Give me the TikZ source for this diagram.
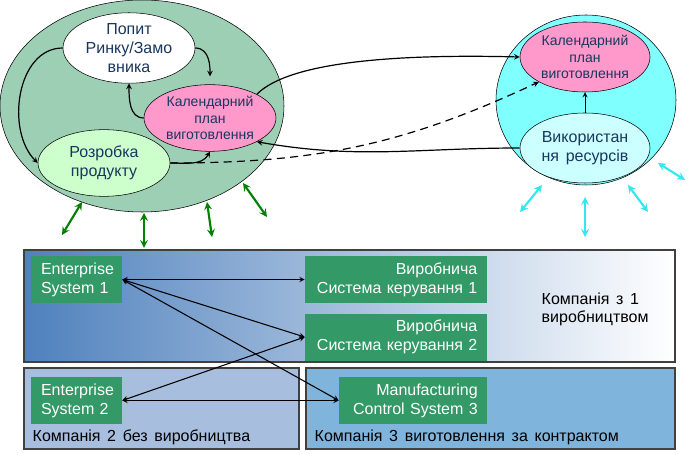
\documentclass[tikz,border=0pt]{standalone}
\usepackage{fontspec}
\setmainfont{Liberation Sans}[WordSpace=1.5]
\usetikzlibrary{positioning,shapes.geometric}

\definecolor{outergreen}{RGB}{157,207,181}
\definecolor{devgreen}{RGB}{204,255,204}
\definecolor{planpink}{RGB}{255,153,204}
\definecolor{rescyan}{RGB}{128,255,255}
\definecolor{usecyan}{RGB}{204,255,255}
\definecolor{navytext}{RGB}{23,55,94}
\definecolor{sysgreen}{RGB}{51,153,102}
\definecolor{arrowgreen}{RGB}{0,128,0}
\definecolor{arrowcyan}{RGB}{51,230,240}
\definecolor{topblue}{RGB}{79,129,189}
\definecolor{midblue}{RGB}{125,163,210}
\definecolor{nomakeblue}{RGB}{167,190,222}
\definecolor{contractblue}{RGB}{127,180,221}

\begin{document}
\begin{tikzpicture}[
    x=0.75pt, y=0.75pt,
    >=stealth,
    oval/.style={ellipse, draw, inner sep=0pt, align=center, text=navytext,
                 font=\fontsize{12}{14.5}\selectfont},
    plan/.style={oval, fill=planpink, minimum width=99pt, minimum height=50pt,
                 font=\fontsize{10.5}{12.5}\selectfont},
    sysbox/.style={rectangle, fill=sysgreen, text=white, minimum height=35.25pt,
                   font=\fontsize{12}{14.25}\selectfont},
    prodbox/.style={sysbox, minimum width=136.5pt, inner xsep=7.25pt,
                    text width=122pt, align=right},
    company/.style={font=\fontsize{12}{13.5}\selectfont, align=left, anchor=west},
    arrow/.style={->, line width=0.9pt},
    link/.style={<->, line width=0.8pt},
    garrow/.style={<->, line width=1.6pt, draw=arrowgreen},
    carrow/.style={<->, line width=1.6pt, draw=arrowcyan}
]
\useasboundingbox (0,0) rectangle (696,456);

% Enterprise (left ellipse)
\node[oval, fill=outergreen, minimum width=213pt, minimum height=159pt] (ent) at (142,350) {};
\node[oval, fill=white, minimum width=99pt, minimum height=48pt] (pop) at (129,408) {Попит\\Ринку/Замо\\вника};
\node[plan] (kal) at (210,338) {Календарний\\план\\виготовлення};
\node[oval, fill=devgreen, minimum width=99pt, minimum height=50pt] (roz) at (104,293) {Розробка\\продукту};

% Manufacturer (right circle)
\node[oval, fill=rescyan, minimum width=135pt, minimum height=127.5pt] (man) at (586,356) {};
\node[plan, minimum width=97.5pt, minimum height=52.5pt] (kalr) at (585,399) {Календарний\\план\\виготовлення};
\node[oval, fill=usecyan, minimum width=97.5pt, minimum height=52.5pt] (vyk) at (585,308) {Використан\\ня ресурсів};

% Arrows inside and between
\draw[arrow] (pop.west) to[out=180, in=135] (roz.west);
\draw[arrow, shorten >=6pt] (pop.east) to[out=0, in=90] (kal.north);
\draw[arrow] (kal.west) to[out=180, in=-90] (pop.south);
\draw[arrow] (roz.east) to[out=0, in=-120] (kal.south);
\draw[arrow] (kal.north east) .. controls (290,395) and (400,402) .. (kalr.west);
\draw[arrow] (vyk.west) to[out=180, in=-10] (kal.south east);
\draw[arrow, dash pattern=on 6pt off 4pt] (roz.east) to[out=0, in=-155] (kalr.south west);
\draw[->, line width=0.7pt] (vyk.north) -- (kalr.south);

% Outside links
\foreach \ax/\ay/\bx/\by in {82/254/62/221, 144/243/144/208, 207/254/212/219, 243/273/267/239}
    \draw[garrow] (\ax,\ay) -- (\bx,\by);
\foreach \ax/\ay/\bx/\by in {542/271/520/244, 585/259/585/219, 628/271/648/244, 658/293/685/276}
    \draw[carrow] (\ax,\ay) -- (\bx,\by);

% Companies
\shade[left color=topblue, middle color=midblue, right color=white] (24,94) rectangle (675,206);
\draw[line width=1pt, draw=black!75] (24,94) rectangle (675,206);
\filldraw[line width=1pt, fill=nomakeblue, draw=black!75] (24,7) rectangle (299,88);
\filldraw[line width=1pt, fill=contractblue, draw=black!75] (306,7) rectangle (675,88);

\node[sysbox, minimum width=68.25pt, inner xsep=7.5pt, text width=53.25pt, align=left] (es1) at (76.5,176.5) {Enterprise\\System 1};
\node[prodbox] (vs1) at (396,176.5) {Виробнича\\Система керування 1};
\node[prodbox, below=7.5pt of vs1] (vs2) {Виробнича\\Система керування 2};
\node[sysbox, minimum width=68.25pt, inner xsep=7.5pt, text width=53.25pt, align=left] (es2) at (76.5,55.5) {Enterprise\\System 2};
\node[sysbox, minimum width=111pt, inner xsep=7pt, text width=97pt, align=right] (mcs) at (413,55.5) {Manufacturing\\Control System 3};

\node[company] (c1) at (537,147) {Компанія з 1\\виробництвом};
\node[company] (c2) at (28,19) {Компанія 2 без виробництва};
\node[company] (c3) at (310,19) {Компанія 3 виготовлення за контрактом};

\draw[link] (es1.east) -- (vs1.west);
\draw[link] (es1.east) -- (vs2.west);
\draw[link] (es1.east) -- (mcs.west);
\draw[link] (es2.east) -- (vs2.west);
\draw[link] (es2.east) -- (mcs.west);

\end{tikzpicture}
\end{document}
